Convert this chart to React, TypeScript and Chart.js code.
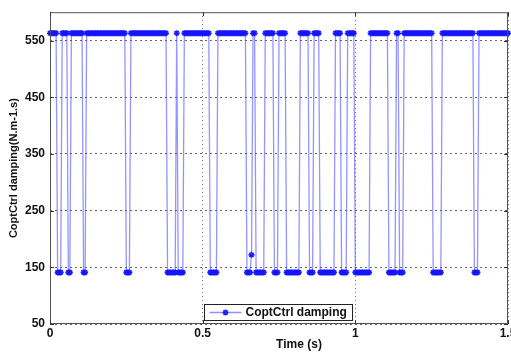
import React, { useEffect, useRef } from "react";
import { Chart, registerables } from "chart.js";

Chart.register(...registerables);

// Sampled damping values (N.m-1.s), one every SAMPLE_STEP seconds from t = 0
const damping: number[] = [
  563, 563, 563, 563, 563,
  141, 141, 141,
  563, 563, 563, 563,
  141, 141,
  563, 563, 563, 563, 563, 563, 563, 563,
  141, 141,
  563, 563, 563, 563, 563, 563, 563, 563, 563, 563,
  563, 563, 563, 563, 563, 563, 563, 563, 563, 563,
  563, 563, 563, 563, 563, 563,
  141, 141, 141,
  563, 563, 563, 563, 563, 563, 563, 563, 563, 563,
  563, 563, 563, 563, 563, 563, 563, 563, 563, 563,
  563, 563, 563, 563,
  141, 141, 141, 141, 141, 141,
  563,
  141, 141, 141, 141,
  563, 563, 563, 563, 563, 563, 563, 563, 563, 563,
  563, 563, 563, 563, 563, 563, 563,
  141, 141, 141, 141, 141,
  563, 563, 563, 563, 563, 563, 563, 563, 563, 563,
  563, 563, 563, 563, 563, 563, 563, 563, 563,
  141, 141, 141,
  172,
  563, 563,
  141, 141, 141, 141, 141, 141,
  563, 563, 563, 563, 563, 563,
  141, 141, 141,
  563, 563, 563, 563, 563,
  141, 141, 141, 141, 141, 141, 141, 141, 141,
  563, 563, 563, 563, 563, 563,
  141, 141, 141,
  563, 563, 563, 563,
  141, 141, 141, 141, 141, 141, 141, 141, 141, 141,
  563, 563, 563, 563,
  141, 141, 141, 141,
  563, 563, 563, 563, 563,
  141, 141, 141, 141, 141, 141, 141, 141, 141, 141,
  563, 563, 563, 563, 563, 563, 563, 563, 563, 563,
  563, 563,
  141, 141, 141, 141, 141,
  563, 563,
  141, 141, 141,
  563, 563, 563, 563, 563, 563, 563, 563, 563, 563,
  563, 563, 563, 563, 563, 563, 563, 563, 563,
  141, 141, 141, 141, 141, 141,
  563, 563, 563, 563, 563, 563, 563, 563, 563, 563,
  563, 563, 563, 563, 563, 563, 563, 563, 563, 563,
  563,
  141, 141, 141,
  563, 563, 563, 563, 563, 563, 563, 563, 563, 563,
  563, 563, 563, 563, 563, 563, 563, 563, 563, 563,
];

const SAMPLE_STEP = 0.005;
const xTicks = [0, 0.5, 1, 1.5];
const yTicks = [50, 150, 250, 350, 450, 550];
const X_MIN = 0;
const X_MAX = 1.5;
const Y_MIN = 50;
const Y_MAX = 600;
const seriesLabel = "CoptCtrl damping";
const xTitle = "Time (s)";
const yTitle = "CoptCtrl damping(N.m-1.s)";

const FONT = '"Liberation Sans", Arial, Helvetica, sans-serif';
const LINE_COLOR = "rgba(60,60,255,0.55)";
const MARK_COLOR = "rgba(20,20,255,0.95)";

function drawStar(ctx: CanvasRenderingContext2D, x: number, y: number, r: number) {
  const d = r * Math.SQRT1_2;
  ctx.beginPath();
  ctx.moveTo(x - r, y); ctx.lineTo(x + r, y);
  ctx.moveTo(x, y - r); ctx.lineTo(x, y + r);
  ctx.moveTo(x - d, y - d); ctx.lineTo(x + d, y + d);
  ctx.moveTo(x - d, y + d); ctx.lineTo(x + d, y - d);
  ctx.stroke();
}

const framePlugin = {
  id: "matlabFrame",
  afterDraw(chart: any) {
    const { ctx, chartArea: a, scales } = chart;
    ctx.save();
    ctx.setLineDash([]);
    // axes box
    ctx.strokeStyle = "#555";
    ctx.lineWidth = 1;
    ctx.strokeRect(a.left + 0.5, a.top + 0.5, a.right - a.left - 1, a.bottom - a.top - 1);
    // inward ticks
    ctx.strokeStyle = "#333";
    ctx.beginPath();
    for (const v of yTicks) {
      const y = Math.round(scales.y.getPixelForValue(v)) + 0.5;
      ctx.moveTo(a.left, y); ctx.lineTo(a.left + 4, y);
      ctx.moveTo(a.right - 4, y); ctx.lineTo(a.right, y);
    }
    for (const v of xTicks) {
      const x = Math.round(scales.x.getPixelForValue(v)) + 0.5;
      ctx.moveTo(x, a.bottom); ctx.lineTo(x, a.bottom - 4);
      ctx.moveTo(x, a.top); ctx.lineTo(x, a.top + 4);
    }
    ctx.stroke();

    // x axis title
    ctx.fillStyle = "#111";
    ctx.font = `bold 12px ${FONT}`;
    ctx.textAlign = "center";
    ctx.textBaseline = "middle";
    ctx.fillText(xTitle, (a.left + a.right) / 2 + 20, a.bottom + 21);

    // legend box
    const lx = 204.5, ly = 304.5, lw = 148, lh = 16;
    ctx.fillStyle = "#fff";
    ctx.fillRect(lx, ly, lw, lh);
    ctx.strokeStyle = "#222";
    ctx.lineWidth = 1;
    ctx.strokeRect(lx, ly, lw, lh);
    const my = ly + lh / 2;
    ctx.strokeStyle = LINE_COLOR;
    ctx.lineWidth = 1.3;
    ctx.beginPath();
    ctx.moveTo(lx + 5, my); ctx.lineTo(lx + 37, my);
    ctx.stroke();
    ctx.strokeStyle = MARK_COLOR;
    ctx.lineWidth = 1.5;
    drawStar(ctx, lx + 21, my, 3);
    ctx.fillStyle = "#111";
    ctx.font = `bold 12px ${FONT}`;
    ctx.textAlign = "left";
    ctx.textBaseline = "middle";
    ctx.fillText(seriesLabel, lx + 41, my + 0.5);
    ctx.restore();
  },
};

export default function App() {
  const canvasRef = useRef<HTMLCanvasElement | null>(null);

  useEffect(() => {
    const canvas = canvasRef.current;
    if (!canvas) return;
    const points = damping.map((v, i) => ({ x: i * SAMPLE_STEP, y: v }));
    const tickFont = { family: FONT, size: 12, weight: "bold" as const };
    const chart = new Chart(canvas, {
      type: "line",
      data: {
        datasets: [
          {
            label: seriesLabel,
            data: points,
            borderColor: LINE_COLOR,
            borderWidth: 1.3,
            pointStyle: "star",
            pointRadius: 3,
            pointBorderColor: MARK_COLOR,
            pointBackgroundColor: MARK_COLOR,
            pointBorderWidth: 1.6,
            tension: 0,
            fill: false,
            clip: false as any,
          },
        ],
      },
      plugins: [framePlugin],
      options: {
        animation: false,
        responsive: false,
        devicePixelRatio: 1,
        layout: { padding: { top: 5, right: 22, left: 0, bottom: 0 } },
        plugins: {
          legend: { display: false },
          tooltip: { enabled: false },
        },
        scales: {
          x: {
            type: "linear",
            min: X_MIN,
            max: X_MAX,
            afterBuildTicks: (s: any) => {
              s.ticks = xTicks.map((value) => ({ value }));
            },
            afterFit: (s: any) => {
              s.height = 28;
            },
            ticks: {
              callback: (v: any) => String(v),
              font: tickFont,
              color: "#111",
              padding: 2,
              maxRotation: 0,
              autoSkip: false,
            },
            grid: { color: "rgba(0,0,0,0.6)", lineWidth: 1, drawTicks: false },
            border: { display: false, dash: [1, 3] },
          },
          y: {
            type: "linear",
            min: Y_MIN,
            max: Y_MAX,
            afterBuildTicks: (s: any) => {
              s.ticks = yTicks.map((value) => ({ value }));
            },
            afterFit: (s: any) => {
              s.width = 50;
            },
            ticks: {
              font: tickFont,
              color: "#111",
              padding: 5,
              autoSkip: false,
            },
            grid: { color: "rgba(0,0,0,0.6)", lineWidth: 1, drawTicks: false },
            border: { display: false, dash: [2, 3] },
            title: {
              display: true,
              text: yTitle,
              font: { family: FONT, size: 11, weight: "bold" },
              color: "#111",
              padding: { top: 7, bottom: 0 },
            },
          },
        },
      },
    });
    return () => chart.destroy();
  }, []);

  return (
    <div
      style={{
        position: "fixed",
        left: 0,
        top: 0,
        width: 511,
        height: 352,
        overflow: "hidden",
        background: "#fff",
      }}
    >
      <canvas ref={canvasRef} width={530} height={352} style={{ display: "block" }} />
    </div>
  );
}
